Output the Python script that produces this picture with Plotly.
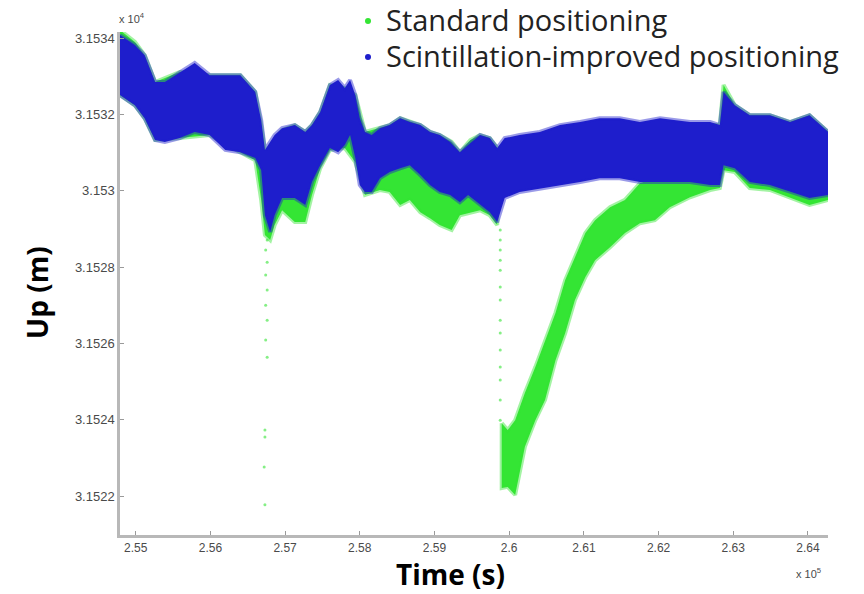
import plotly.graph_objects as go

# ---- Data: time in seconds, height in metres ----
# Scintillation-improved solution: upper / lower edge of the scatter cloud
blue_time = [254790, 254990, 255120, 255260, 255390, 255590, 255790, 255990, 256200, 256400,
             256600, 256680, 256730, 256800, 256860, 256960, 257130, 257270, 257360, 257470,
             257600, 257710, 257800, 257870, 257940, 258000, 258070, 258160, 258270, 258400,
             258540, 258670, 258810, 258940, 259070, 259210, 259340, 259450, 259610, 259740,
             259840, 259940, 260140, 260410, 260680, 260950, 261210, 261480, 261750, 262020,
             262420, 262690, 262820, 262870, 263020, 263220, 263490, 263760, 264020, 264270]
blue_upper = [31534.08, 31533.82, 31533.55, 31532.85, 31532.85, 31533.11, 31533.35, 31533.03, 31533.03, 31533.03,
              31532.59, 31531.85, 31531.07, 31531.28, 31531.46, 31531.64, 31531.72, 31531.54, 31531.72, 31532.06,
              31532.77, 31532.90, 31532.69, 31532.90, 31532.51, 31531.90, 31531.54, 31531.46, 31531.64, 31531.72,
              31531.90, 31531.80, 31531.72, 31531.54, 31531.46, 31531.28, 31531.01, 31531.20, 31531.46, 31531.38,
              31531.12, 31531.38, 31531.46, 31531.54, 31531.72, 31531.80, 31531.90, 31531.90, 31531.80, 31531.90,
              31531.80, 31531.80, 31531.72, 31532.59, 31532.24, 31531.98, 31531.98, 31531.80, 31531.98, 31531.54]
blue_lower = [31532.51, 31532.24, 31531.90, 31531.33, 31531.28, 31531.38, 31531.54, 31531.46, 31531.07, 31531.01,
              31530.86, 31530.54, 31529.36, 31528.92, 31529.36, 31529.81, 31529.81, 31529.63, 31530.23, 31530.67,
              31531.12, 31531.01, 31531.20, 31531.46, 31530.86, 31530.15, 31529.97, 31529.97, 31530.33, 31530.49,
              31530.59, 31530.67, 31530.41, 31530.15, 31529.97, 31529.89, 31529.70, 31529.89, 31529.63, 31529.44,
              31529.18, 31529.81, 31529.97, 31530.07, 31530.15, 31530.23, 31530.33, 31530.33, 31530.23, 31530.23,
              31530.23, 31530.15, 31530.15, 31530.67, 31530.59, 31530.23, 31530.15, 31529.97, 31529.81, 31529.89]

# Standard solution before the second scintillation event
green_pre_time = [254790, 254990, 255120, 255260, 255590, 255990, 256400, 256600, 256680, 256730,
                  256800, 256860, 256960, 257130, 257270, 257360, 257470, 257600, 257800, 257940,
                  258070, 258270, 258400, 258540, 258670, 258810, 258940, 259070, 259230, 259340,
                  259480, 259610, 259740, 259840]
green_pre_upper = [31534.21, 31533.90, 31533.55, 31532.85, 31533.11, 31533.03, 31533.03, 31532.59, 31531.72, 31531.07,
                   31531.07, 31531.33, 31531.59, 31531.72, 31531.54, 31531.72, 31532.06, 31532.77, 31532.69, 31532.51,
                   31531.54, 31531.64, 31531.72, 31531.90, 31531.80, 31531.72, 31531.54, 31531.46, 31531.28, 31531.01,
                   31531.33, 31531.46, 31531.38, 31531.12]
green_pre_lower = [31532.51, 31532.24, 31531.90, 31531.33, 31531.38, 31531.46, 31531.01, 31530.80, 31529.76, 31528.84,
                   31528.71, 31529.10, 31529.49, 31529.18, 31529.18, 31529.89, 31530.59, 31531.07, 31531.12, 31530.75,
                   31529.89, 31530.02, 31529.97, 31529.63, 31529.76, 31529.44, 31529.28, 31529.10, 31528.97, 31529.36,
                   31529.44, 31529.49, 31529.36, 31529.10]

# Standard solution after the second event: drop and slow recovery
green_post_time = [259900, 259980, 260080, 260210, 260350, 260480, 260620, 260750, 260880, 261020,
                   261150, 261350, 261550, 261750, 261950, 262150, 262420, 262690, 262820, 262870,
                   263020, 263220, 263490, 263760, 264020, 264270]
green_post_upper = [31523.91, 31523.73, 31523.99, 31524.70, 31525.38, 31526.09, 31526.80, 31527.66, 31528.26, 31528.89,
                    31529.23, 31529.57, 31529.76, 31530.20, 31530.33, 31531.59, 31531.72, 31531.72, 31531.72, 31532.77,
                    31532.24, 31531.98, 31531.98, 31531.80, 31531.98, 31531.54]
green_post_lower = [31522.21, 31522.24, 31522.03, 31523.29, 31523.99, 31524.52, 31525.56, 31526.27, 31527.14, 31527.74,
                    31528.18, 31528.52, 31528.89, 31529.15, 31529.23, 31529.57, 31529.83, 31530.02, 31530.07, 31530.54,
                    31530.49, 31530.07, 31530.02, 31529.81, 31529.63, 31529.76]

# Isolated standard-solution epochs during the two loss-of-lock spikes
spike_time = [256760, 256740, 256760, 256740, 256760, 256740, 256760, 256740, 256760, 256730, 256730, 256720, 256730,
              259880, 259880, 259880, 259880, 259880, 259880, 259880, 259880, 259880, 259880, 259880, 259880, 259880, 259880]
spike_height = [31528.71, 31528.45, 31528.13, 31527.79, 31527.40, 31527.00, 31526.61, 31526.09, 31525.64, 31523.73,
                31523.55, 31522.76, 31521.77,
                31528.97, 31528.71, 31528.45, 31528.18, 31527.92, 31527.48, 31527.14, 31526.61, 31526.27, 31525.83,
                31525.38, 31525.04, 31524.52, 31523.99]

# Axis ticks
x_tick_values = [255000, 256000, 257000, 258000, 259000, 260000, 261000, 262000, 263000, 264000]
x_tick_labels = ["2.55", "2.56", "2.57", "2.58", "2.59", "2.6", "2.61", "2.62", "2.63", "2.64"]
y_tick_values = [31522, 31524, 31526, 31528, 31530, 31532, 31534]
y_tick_labels = ["3.1522", "3.1524", "3.1526", "3.1528", "3.153", "3.1532", "3.1534"]

GREEN = "#34e534"
GREEN_EDGE = "rgba(52,229,52,0.45)"
BLUE = "#1e1ecc"
BLUE_EDGE = "rgba(30,30,204,0.45)"

W, H = 864, 594
ML, MR, MT, MB = 120, 36, 32, 59
PW, PH = W - ML - MR, H - MT - MB


def px(xp):
    return (xp - ML) / PW


def py(yp):
    return (H - MB - yp) / PH


def band(t, hi, lo, color, edge):
    # closed polygon: upper edge left->right, lower edge right->left;
    # a soft semi-transparent outline mimics the sparse outer points
    return go.Scatter(
        x=list(t) + list(t)[::-1] + [t[0]],
        y=list(hi) + list(lo)[::-1] + [hi[0]],
        mode="lines", fill="toself", fillcolor=color,
        line=dict(width=4, color=edge),
        hoverinfo="skip", showlegend=False,
    )


fig = go.Figure()
fig.add_trace(band(green_pre_time, green_pre_upper, green_pre_lower, GREEN, GREEN_EDGE))
fig.add_trace(band(green_post_time, green_post_upper, green_post_lower, GREEN, GREEN_EDGE))
fig.add_trace(go.Scatter(x=spike_time, y=spike_height, mode="markers",
                         marker=dict(color=GREEN, size=3, opacity=0.6),
                         hoverinfo="skip", showlegend=False))
fig.add_trace(band(blue_time, blue_upper, blue_lower, BLUE, BLUE_EDGE))

axis_common = dict(showgrid=False, zeroline=False, showline=True, linecolor="#b8b8b8",
                   linewidth=2.5, ticks="inside", ticklen=4, tickcolor="#9a9a9a", mirror=False)

fig.update_layout(
    width=W, height=H,
    margin=dict(l=ML, r=MR, t=MT, b=MB),
    paper_bgcolor="white", plot_bgcolor="white",
    xaxis=dict(range=[254790, 264268], tickmode="array", tickvals=x_tick_values,
               ticktext=x_tick_labels, tickfont=dict(family="Arial", size=12, color="#4a4a4a"),
               **axis_common),
    yaxis=dict(range=[31520.98, 31534.16], tickmode="array", tickvals=y_tick_values,
               ticktext=y_tick_labels, tickfont=dict(family="Arial", size=13, color="#4a4a4a"),
               **axis_common),
    showlegend=False,
)

title_font = dict(family="Open Sans", size=28, color="black")
legend_font = dict(family="Open Sans", size=29, color="#222222")
annotations = [
    dict(text="<b>Up (m)</b>", x=px(37), y=py(293), textangle=-90, font=title_font),
    dict(text="<b>Time (s)</b>", x=px(450), y=py(574), font=title_font),
    dict(text="x 10<sup>4</sup>", x=px(117), y=py(18), xanchor="left", font=dict(family="Arial", size=11, color="#4a4a4a")),
    dict(text="x 10<sup>5</sup>", x=px(808), y=py(573), font=dict(family="Arial", size=11, color="#4a4a4a")),
    dict(text="Standard positioning", x=px(384), y=py(19), xanchor="left", font=legend_font),
    dict(text="Scintillation-improved positioning", x=px(384), y=py(55), xanchor="left", font=legend_font),
]
for a in annotations:
    a.update(xref="paper", yref="paper", showarrow=False)
    a.setdefault("xanchor", "center")
    a.setdefault("yanchor", "middle")
fig.update_layout(annotations=annotations)

# legend markers
for cy, col in [(21, GREEN), (57, BLUE)]:
    fig.add_shape(type="circle", xref="paper", yref="paper",
                  x0=px(365), x1=px(371), y0=py(cy + 3), y1=py(cy - 3),
                  fillcolor=col, line=dict(width=0))

fig.write_html("out.html")
